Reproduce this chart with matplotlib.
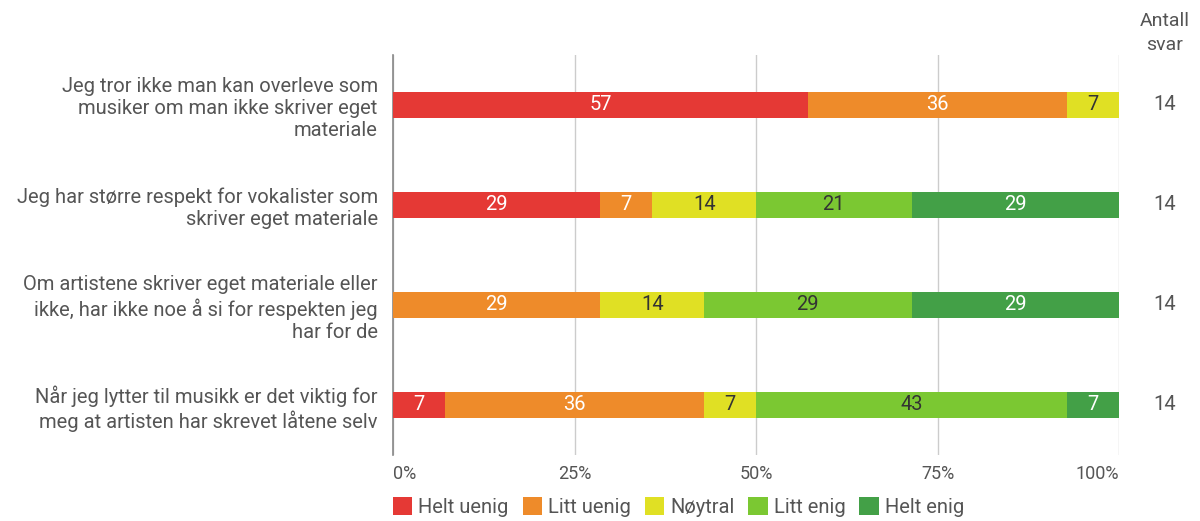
import matplotlib
matplotlib.use("Agg")
import matplotlib.pyplot as plt
from matplotlib.patches import Patch
import numpy as np

plt.rcParams['font.family'] = ['Roboto', 'DejaVu Sans']

categories = [
    "Jeg tror ikke man kan overleve som\nmusiker om man ikke skriver eget\nmateriale",
    "Jeg har større respekt for vokalister som\nskriver eget materiale",
    "Om artistene skriver eget materiale eller\nikke, har ikke noe å si for respekten jeg\nhar for de",
    "Når jeg lytter til musikk er det viktig for\nmeg at artisten har skrevet låtene selv",
]
series = ["Helt uenig", "Litt uenig", "Nøytral", "Litt enig", "Helt enig"]
# answer counts per category (columns follow series)
counts = np.array([
    [8, 5, 1, 0, 0],
    [4, 1, 2, 3, 4],
    [0, 4, 2, 4, 4],
    [1, 5, 1, 6, 1],
])
totals = [14, 14, 14, 14]
colors = ["#E53935", "#EE8B2A", "#E0E024", "#7BC832", "#43A047"]
label_colors = ["white", "white", "#333333", "#333333", "white"]
xticks = [0, 25, 50, 75, 100]
xticklabels = ["0%", "25%", "50%", "75%", "100%"]

W, H = 1200, 521
fig = plt.figure(figsize=(W / 100, H / 100), dpi=100)
ax = fig.add_axes([393 / W, 1 - 455 / H, (1119 - 393) / W, 400 / H])

pct = counts / np.array(totals)[:, None] * 100
y = np.arange(len(categories))
left = np.zeros(len(categories))
for j, s in enumerate(series):
    ax.barh(y, pct[:, j], left=left, height=0.26, color=colors[j], zorder=3, label=s)
    for i in range(len(categories)):
        if pct[i, j] > 0:
            ax.text(left[i] + pct[i, j] / 2, y[i], f"{round(pct[i, j]):d}",
                    ha="center", va="center", fontsize=14.5, color=label_colors[j], zorder=4)
    left += pct[:, j]

ax.set_xlim(0, 100)
ax.set_ylim(len(categories) - 0.5, -0.5)
ax.set_xticks(xticks)
ax.set_xticklabels(xticklabels)
ax.grid(axis="x", color="#cccccc", linewidth=1, zorder=0)
for sp in ["top", "right", "bottom"]:
    ax.spines[sp].set_visible(False)
ax.spines["left"].set_color("#888888")
ax.spines["left"].set_linewidth(1.2)
ax.tick_params(axis="x", length=0, pad=7, labelsize=13, labelcolor="#555555")
tl = ax.get_xticklabels()
tl[0].set_ha("left")
tl[-1].set_ha("right")
ax.set_yticks(y)
ax.set_yticklabels(categories, fontsize=14.5, color="#555555", linespacing=1.2)
ax.tick_params(axis="y", length=0, pad=11)

# Antall svar column
fig.text(1165 / W, 1 - 33 / H, "Antall\nsvar", ha="center", va="center",
         fontsize=14, color="#555555", linespacing=1.45)
for i, t in enumerate(totals):
    fig.text(1165 / W, 1 - (105 + 100 * i) / H, str(t), ha="center", va="center",
             fontsize=14.5, color="#555555")

handles = [Patch(facecolor=c, edgecolor="none") for c in colors]
fig.legend(handles, series, loc="center left", bbox_to_anchor=(393 / W, 1 - 507 / H),
           ncol=5, frameon=False, fontsize=14.5, handlelength=0.95, handleheight=0.95,
           handletextpad=0.3, columnspacing=0.7, labelcolor="#555555", borderaxespad=0,
           borderpad=0)

fig.savefig("out.png", dpi=100)
